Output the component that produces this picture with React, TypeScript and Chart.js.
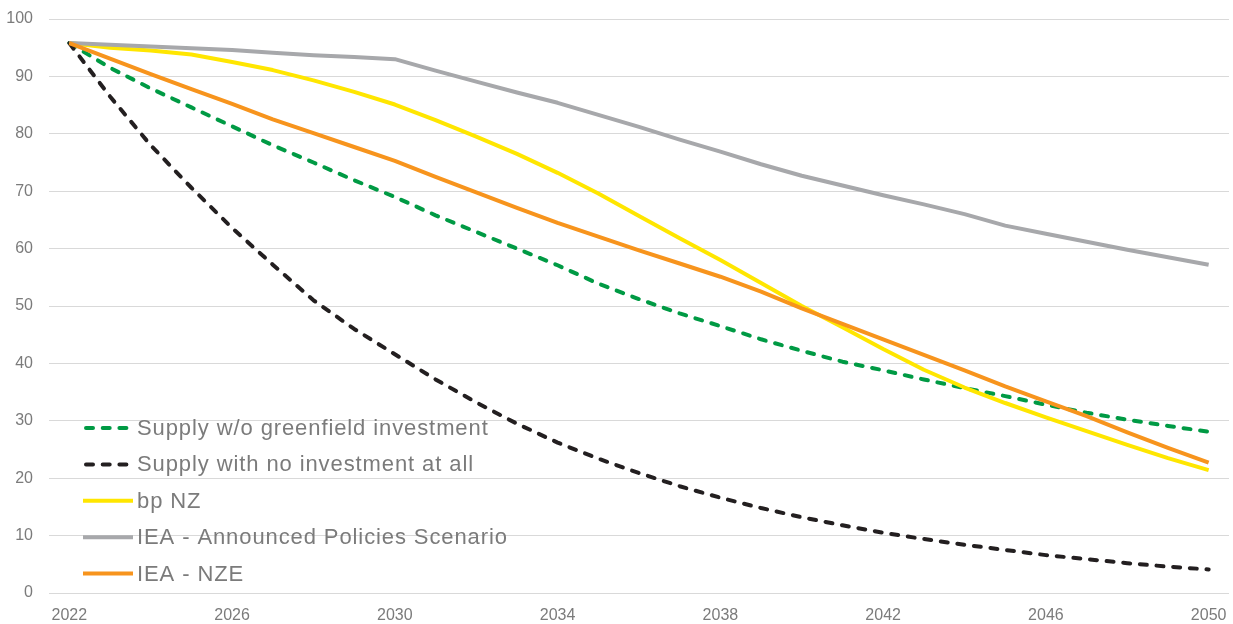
import React, { useEffect, useRef } from "react";
import { Chart, registerables } from "chart.js";

Chart.register(...registerables);

const YEARS = [
  2022, 2023, 2024, 2025, 2026, 2027, 2028, 2029, 2030, 2031, 2032, 2033, 2034, 2035, 2036,
  2037, 2038, 2039, 2040, 2041, 2042, 2043, 2044, 2045, 2046, 2047, 2048, 2049, 2050,
];

const X_TICKS = [2022, 2026, 2030, 2034, 2038, 2042, 2046, 2050];

const LABELS = [
  "Supply w/o greenfield investment",
  "Supply with no investment at all",
  "bp NZ",
  "IEA - Announced Policies Scenario",
  "IEA - NZE",
];

const NO_GREENFIELD = [
  95.8, 91.5, 87.9, 84.6, 81.3, 78.0, 75.0, 71.9, 69.0, 65.8, 62.9, 60.0, 57.1, 53.9, 51.2,
  48.7, 46.5, 44.2, 42.2, 40.3, 38.8, 37.2, 35.7, 34.3, 32.8, 31.4, 30.2, 29.1, 28.1,
];

const NO_INVESTMENT = [
  95.8, 86.5, 78.0, 70.6, 63.6, 57.2, 51.0, 46.0, 41.6, 37.2, 33.2, 29.5, 26.2, 23.4, 20.9,
  18.6, 16.6, 14.8, 13.2, 11.8, 10.5, 9.4, 8.4, 7.5, 6.6, 5.9, 5.2, 4.6, 4.1,
];

const BP_NZ = [
  95.8, 95.0, 94.5, 93.8, 92.5, 91.1, 89.3, 87.3, 85.1, 82.4, 79.5, 76.5, 73.2, 69.6, 65.7,
  61.8, 58.0, 54.0, 50.0, 46.3, 42.5, 38.9, 35.8, 33.1, 30.6, 28.2, 25.8, 23.5, 21.4,
];

const IEA_APS = [
  95.8, 95.5, 95.2, 94.9, 94.6, 94.1, 93.7, 93.4, 93.0, 91.0, 89.1, 87.2, 85.4, 83.3, 81.2,
  79.0, 76.9, 74.7, 72.7, 71.0, 69.3, 67.7, 66.0, 64.0, 62.6, 61.2, 59.8, 58.5, 57.2,
];

const IEA_NZE = [
  95.8, 93.1, 90.4, 87.8, 85.2, 82.5, 80.1, 77.7, 75.3, 72.5, 69.8, 67.1, 64.5, 62.1, 59.7,
  57.4, 55.1, 52.5, 49.6, 46.9, 44.2, 41.5, 38.8, 36.0, 33.4, 30.8, 28.0, 25.3, 22.7,
];

const SERIES = [NO_GREENFIELD, NO_INVESTMENT, BP_NZ, IEA_APS, IEA_NZE];
const COLORS = ["#009A44", "#231F20", "#FFE600", "#A7A8AB", "#F7941D"];
const DASHED = [true, true, false, false, false];

const FONT = '"Liberation Sans", Arial, Helvetica, sans-serif';
const TEXT = "#7b7b7b";
const DASH = [7, 9.7];

const insideLegend = {
  id: "insideLegend",
  afterDatasetsDraw(chart: any) {
    const { ctx, chartArea } = chart;
    const x0 = chartArea.left + 34;
    const swatchW = 50;
    const rowH = 36.4;
    const y0 = chartArea.bottom - 165;
    ctx.save();
    ctx.font = `22px ${FONT}`;
    try {
      (ctx as any).letterSpacing = "0.9px";
    } catch (e) {}
    ctx.textBaseline = "middle";
    ctx.textAlign = "left";
    chart.data.datasets.forEach((ds: any, i: number) => {
      const y = y0 + i * rowH;
      ctx.beginPath();
      ctx.strokeStyle = ds.borderColor;
      ctx.lineWidth = 4;
      if (ds.borderDash && ds.borderDash.length) {
        ctx.lineCap = "round";
        ctx.setLineDash(ds.borderDash);
        ctx.moveTo(x0 + 3, y);
        ctx.lineTo(x0 + swatchW - 4, y);
      } else {
        ctx.lineCap = "butt";
        ctx.setLineDash([]);
        ctx.moveTo(x0, y);
        ctx.lineTo(x0 + swatchW, y);
      }
      ctx.stroke();
      ctx.setLineDash([]);
      ctx.fillStyle = TEXT;
      ctx.fillText(ds.label, x0 + swatchW + 4, y + 1);
    });
    ctx.restore();
  },
};

export default function App() {
  const ref = useRef<HTMLCanvasElement | null>(null);

  useEffect(() => {
    if (!ref.current) return;
    const datasets = SERIES.map((vals, i) => ({
      label: LABELS[i],
      data: YEARS.map((yr, j) => ({ x: yr, y: vals[j] })),
      borderColor: COLORS[i],
      backgroundColor: COLORS[i],
      borderWidth: 4,
      borderDash: DASHED[i] ? DASH : [],
      borderCapStyle: DASHED[i] ? "round" : "butt",
      borderJoinStyle: "round",
      pointRadius: 0,
      pointHoverRadius: 0,
      tension: 0,
      fill: false,
      order: SERIES.length - i,
    }));

    const chart = new Chart(ref.current, {
      type: "line",
      data: { datasets } as any,
      plugins: [insideLegend],
      options: {
        animation: false,
        responsive: true,
        maintainAspectRatio: false,
        layout: { padding: { left: 6, right: 4, top: 19, bottom: 2 } },
        plugins: {
          legend: { display: false },
          tooltip: { enabled: false },
          title: { display: false },
        },
        scales: {
          x: {
            type: "linear",
            min: 2021.5,
            max: 2050.5,
            afterBuildTicks: (scale: any) => {
              scale.ticks = X_TICKS.map((v) => ({ value: v }));
            },
            afterFit: (scale: any) => {
              scale.height = 29;
              scale.paddingLeft = 0;
              scale.paddingRight = 0;
            },
            grid: { display: false, drawTicks: false },
            border: { display: false },
            ticks: {
              padding: 13,
              color: TEXT,
              font: { size: 16, family: FONT },
              maxRotation: 0,
              autoSkip: false,
              callback: (v: any) => String(v),
            },
          },
          y: {
            min: 0,
            max: 100,
            afterFit: (scale: any) => {
              scale.width = 43;
              scale.paddingTop = 0;
              scale.paddingBottom = 0;
            },
            ticks: {
              stepSize: 10,
              padding: 16,
              color: TEXT,
              font: { size: 16, family: FONT },
            },
            grid: { color: "#d9d9d9", lineWidth: 1, drawTicks: false },
            border: { display: false },
          },
        },
      } as any,
    });
    return () => chart.destroy();
  }, []);

  return (
    <div style={{ position: "fixed", left: 0, top: 0, width: 1233, height: 624, background: "#fff" }}>
      <canvas ref={ref} />
    </div>
  );
}
